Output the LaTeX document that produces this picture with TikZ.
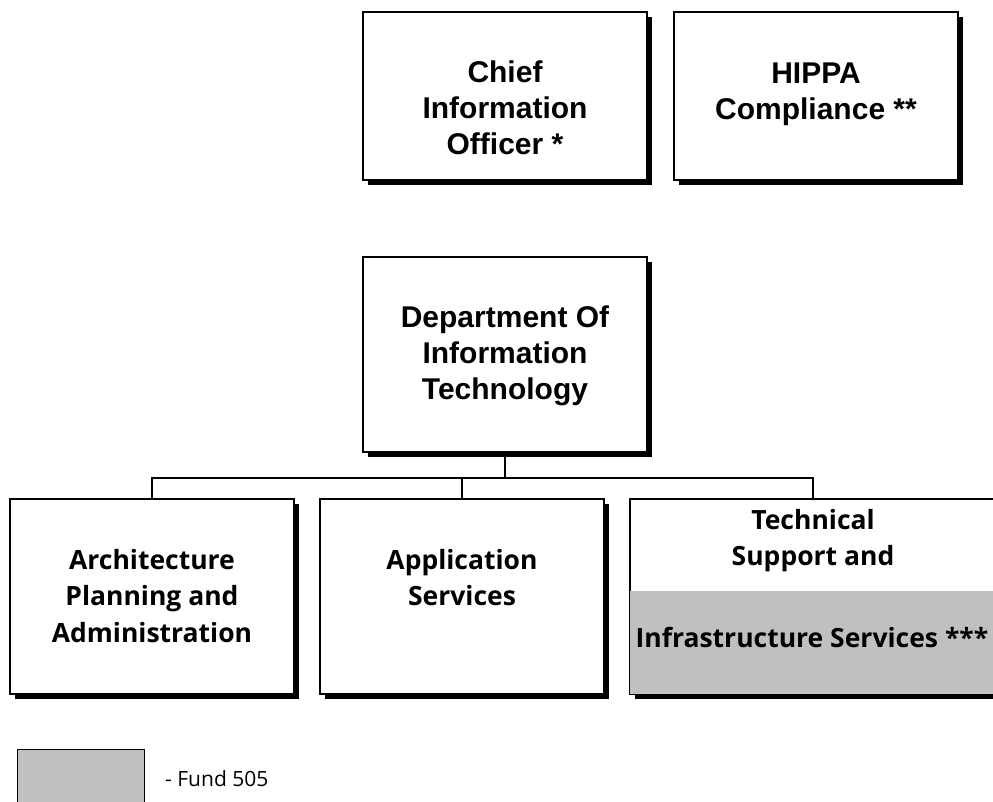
\documentclass[tikz,border=0pt]{standalone}
\usepackage{fontspec}
\setmainfont{Liberation Sans}
\newfontfamily\humfont{Open Sans}
\newfontfamily\legfont{Open Sans}
\usetikzlibrary{shadows}
\definecolor{fundgray}{HTML}{C0C0C0}
\begin{document}
\begin{tikzpicture}[x=1pt,y=-1pt,
  box/.style={draw=black, line width=1.2pt, fill=white, inner sep=0pt,
    drop shadow={shadow xshift=5pt, shadow yshift=-5pt, opacity=1, fill=black}},
  topbox/.style={box, minimum width=284pt, minimum height=168pt},
  midbox/.style={box, minimum width=284pt, minimum height=195pt},
  lbl/.style={anchor=north, inner sep=0pt, align=center,
    font=\bfseries\fontsize{30}{36}\selectfont},
  hlbl/.style={anchor=north, inner sep=0pt, align=center,
    font=\humfont\bfseries\fontsize{26.5}{36.5}\selectfont},
  conn/.style={line width=1.2pt}]
\useasboundingbox (0,0) rectangle (993,801);
\clip (0,0) rectangle (993,801);
% top row
\node[topbox] (cio) at (505,96) {};
\node[lbl] (cioT) at (505,61) {Chief\\Information\\Officer *};
\node[topbox] (hip) at (816,96) {};
\node[lbl] (hipT) at (816,63) {HIPPA\\Compliance **};
% department
\node[midbox] (dept) at (505,354.5) {};
\node[lbl] (deptT) at (505,306) {Department Of\\Information\\Technology};
% bottom row
\node[midbox] (arch) at (152,596.5) {};
\node[hlbl] (archT) at (152,549) {Architecture\\Planning and\\Administration};
\node[midbox] (app) at (462,596.5) {};
\node[hlbl] (appT) at (462,549) {Application\\Services};
\node[midbox, minimum width=366pt] (tech) at (813,596.5) {};
\fill[fundgray] (tech.west |- 0,591) rectangle (tech.south east);
\draw[line width=1.2pt] (tech.south west) rectangle (tech.north east);
\node[hlbl] (techT) at (813,509) {Technical\\Support and};
\node[hlbl] (techI) at (812,627) {Infrastructure Services ***};
% connectors
\coordinate (bus) at (505,478);
\draw[conn] (dept.south) -- (bus);
\draw[conn] (arch.north) -- (arch.north |- bus) -- (tech.north |- bus) -- (tech.north);
\draw[conn] (app.north) -- (app.north |- bus);
% legend
\node[draw=black, line width=1.2pt, fill=fundgray, inner sep=0pt,
  minimum width=127pt, minimum height=80pt, anchor=north west] (leg) at (17,749) {};
\node[anchor=base west, inner sep=0pt, font=\legfont\fontsize{21}{25}\selectfont] (legT) at (165,786) {- Fund 505};
\end{tikzpicture}
\end{document}
